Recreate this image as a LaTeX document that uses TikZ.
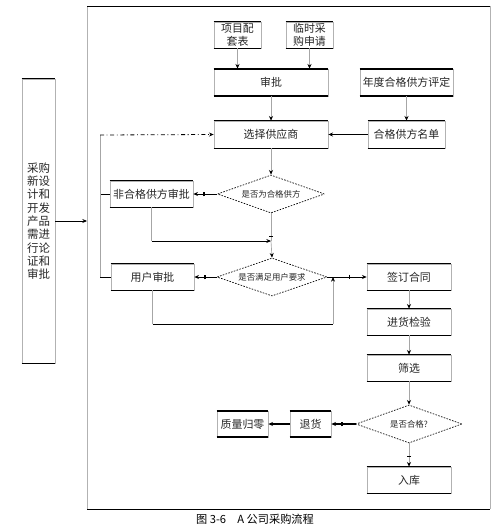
\documentclass[tikz,border=0pt]{standalone}
\usepackage{fontspec}
\setmainfont{Noto Sans CJK SC}
\usetikzlibrary{arrows.meta,shapes.geometric}
\newcommand\fsbox{\fontsize{8.2}{10}\selectfont}
\newcommand\fsdia{\fontsize{6.3}{8}\selectfont}
\begin{document}
\begin{tikzpicture}[x=0.75pt,y=-0.75pt,
  box/.style={draw=gray!60, line width=0.5pt, inner sep=0pt, align=center, font=\fsbox, text=black!85},
  dia/.style={diamond, draw=black, dash pattern=on 1.2pt off 1pt, line width=0.5pt, inner sep=0pt, aspect=3, font=\fsdia, text=black!85},
  tipa/.style={-{Stealth[length=3.5pt,width=3pt,black]}},
  gline/.style={draw=gray!70, line width=0.5pt, tipa},
  bline/.style={draw=black, line width=0.6pt, tipa},
  barline/.style={draw=black, line width=0.7pt, -{Bar[width=3.5pt,line width=1.1pt,sep=4pt]Stealth[length=3.5pt,width=3pt]}},
  gbarline/.style={draw=gray!70, line width=0.5pt, -{Bar[width=3pt,black,line width=0.8pt,sep=4pt]Stealth[length=3.5pt,width=3pt,black]}}
]
\useasboundingbox (0,0) rectangle (499,531);
% frame
\draw[gray!60, line width=0.6pt] (87,6)--(87,509) (490,6)--(490,509);
\draw[black, line width=0.7pt] (87,6)--(490,6) (87,509)--(490,509);
% nodes
\node[box, minimum width=33*0.75pt, minimum height=284*0.75pt, font=\fontsize{8.6}{10}\selectfont] (lb) at (38.5,221) {采购\\新设\\计和\\开发\\产品\\需进\\行论\\证和\\审批};
\node[box, minimum width=47*0.75pt, minimum height=26*0.75pt] (xm) at (237.5,35) {项目配\\套表};
\node[box, minimum width=47*0.75pt, minimum height=26*0.75pt] (lc) at (309.5,35) {临时采\\购申请};
\node[box, minimum width=114*0.75pt, minimum height=27*0.75pt] (sp) at (271,82.5) {审批};
\node[box, minimum width=93*0.75pt, minimum height=27*0.75pt] (nd) at (406.5,82.5) {年度合格供方评定};
\node[box, minimum width=114*0.75pt, minimum height=27*0.75pt] (xz) at (271,134.5) {选择供应商};
\node[box, minimum width=77*0.75pt, minimum height=27*0.75pt] (hg) at (406.5,134.5) {合格供方名单};
\node[dia, minimum width=107*0.75pt, minimum height=38*0.75pt] (d1) at (271,194) {是否为合格供方};
\node[box, minimum width=83*0.75pt, minimum height=26*0.75pt] (fh) at (151.5,194) {非合格供方审批};
\node[box, minimum width=83*0.75pt, minimum height=26*0.75pt] (yh) at (152.5,277) {用户审批};
\node[dia, minimum width=110*0.75pt, minimum height=38*0.75pt] (d2) at (272,277) {是否满足用户要求};
\node[box, minimum width=84*0.75pt, minimum height=26*0.75pt] (qd) at (409,277) {签订合同};
\node[box, minimum width=84*0.75pt, minimum height=26*0.75pt] (jh) at (409,322) {进货检验};
\node[box, minimum width=84*0.75pt, minimum height=26*0.75pt] (sx) at (409,368) {筛选};
\node[dia, minimum width=106*0.75pt, minimum height=38*0.75pt] (d3) at (409,424) {是否合格?};
\node[box, minimum width=41*0.75pt, minimum height=26*0.75pt] (th) at (310.5,424) {退货};
\node[box, minimum width=51*0.75pt, minimum height=26*0.75pt] (zl) at (242.5,424) {质量归零};
\node[box, minimum width=84*0.75pt, minimum height=26*0.75pt] (rk) at (409,480) {入库};
\node[font=\fontsize{8.4}{10}\selectfont, inner sep=0pt] (cap) at (255,519) {图 3-6\hspace{1em}A 公司采购流程};
% top/bottom borders
\foreach \n in {lb,xm,lc,xz,hg,fh,yh,qd,jh,sx,rk}{
  \draw[black, line width=0.6pt] (\n.north west)--(\n.north east) (\n.south west)--(\n.south east);
}
\foreach \n in {sp,nd,th,zl}{
  \draw[black, line width=1.5pt] (\n.north west)--(\n.north east) (\n.south west)--(\n.south east);
}
% coordinates
\coordinate (j1) at (271,241);
\coordinate (c1) at (333,324);
\coordinate (L1) at (100,194);
\coordinate (L2) at (100,277);
\coordinate (L3) at (100,135);
\coordinate (fl) at (87,221);
% connectors
\draw[bline] (lb.east) -- (fl);
\draw[gline] (xm.south) -- (xm.south|-sp.north);
\draw[gline] (lc.south) -- (lc.south|-sp.north);
\draw[gline] (sp) -- (xz);
\draw[gline] (nd) -- (hg);
\draw[bline] (hg) -- (xz);
\draw[gline] (xz) -- (d1);
\draw[barline] (d1.west) -- (fh.east);
\draw[draw=gray!70, line width=0.5pt, -{Bar[width=3pt,black,line width=0.8pt]}] (d1.south) -- ([yshift=3pt]j1);
\draw[gray!70, line width=0.5pt] ([yshift=3pt]j1) -- (j1);
\draw[gline] (j1) -- (d2.north);
\draw[gray!70, line width=0.5pt] (fh.south) -- (fh.south|-j1);
\draw[bline] (fh.south|-j1) -- (j1);
\draw[barline] (d2.west) -- (yh.east);
\draw[gray!70, line width=0.5pt] (yh.south) -- (yh.south|-c1);
\draw[black, line width=0.6pt] (yh.south|-c1) -- (c1);
\draw[gline] (c1) -- (c1|-d2.east);
\draw[barline, -{Bar[width=3.5pt,line width=1.1pt,sep=9pt]Stealth[length=3.5pt,width=3pt]}] (d2.east) -- (qd.west);
\draw[gline] (qd) -- (jh);
\draw[gline] (jh) -- (sx);
\draw[gline] (sx) -- (d3);
\draw[barline, line width=1.2pt] (d3.west) -- (th.east);
\draw[bline, line width=1.4pt] (th.west) -- (zl.east);
\draw[gbarline] (d3.south) -- (rk.north);
\draw[black, line width=0.6pt] (fh.west) -- (L1);
\draw[black, line width=0.6pt] (yh.west) -- (L2);
\draw[gray!70, line width=0.5pt] (L2) -- (L3);
\draw[black, line width=0.6pt, dash dot, tipa] (L3) -- (xz.west);
\end{tikzpicture}
\end{document}
